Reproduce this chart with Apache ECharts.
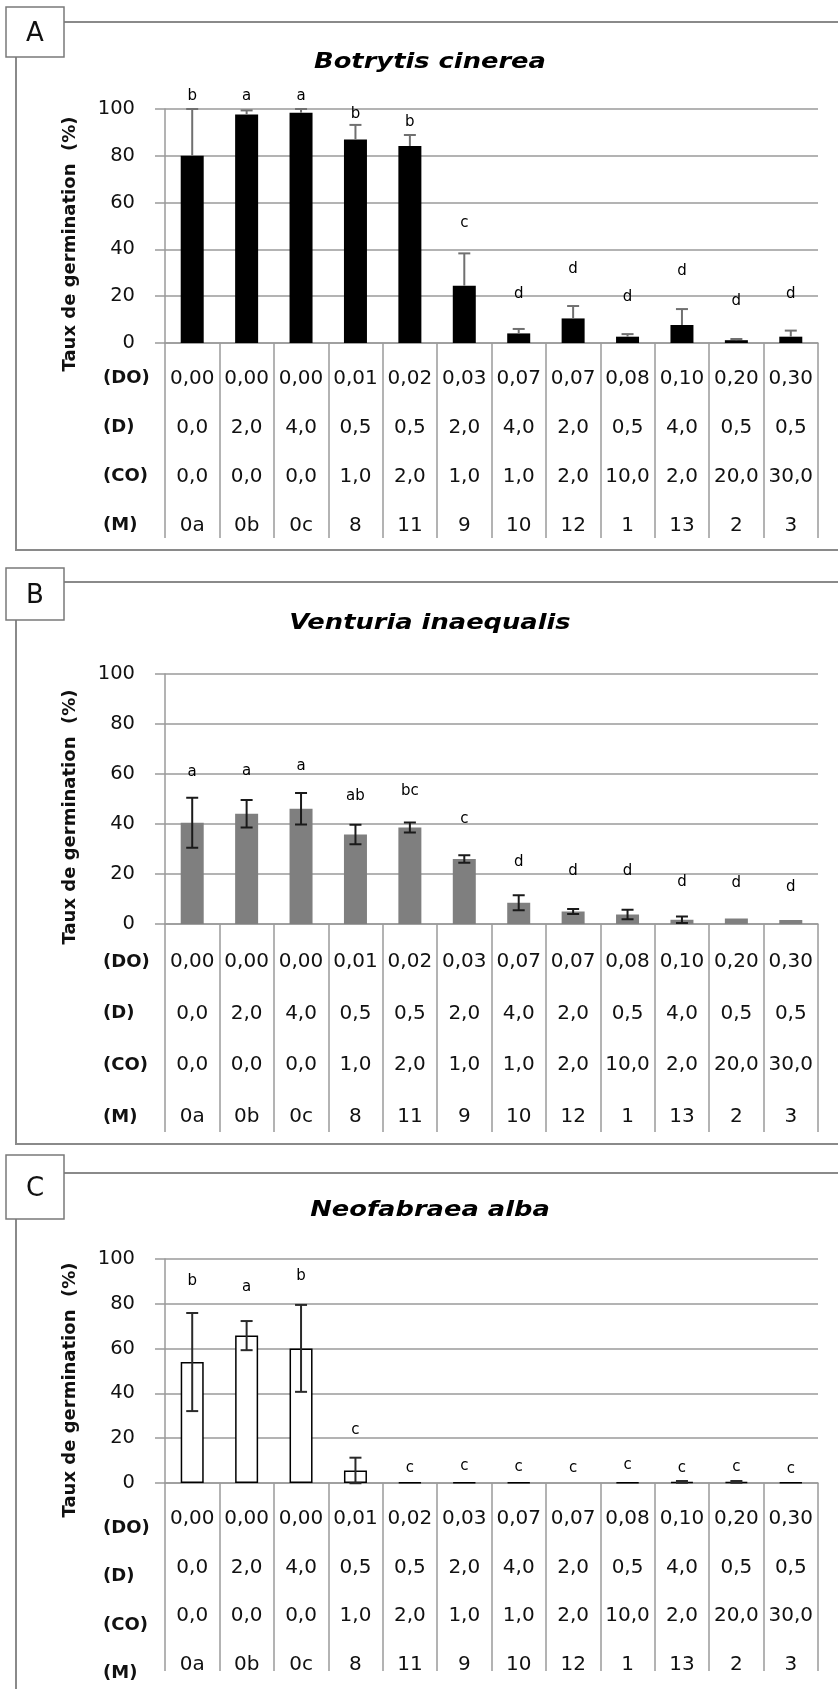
<!DOCTYPE html>
<html>
<head>
<meta charset="utf-8">
<script src="https://cdn.jsdelivr.net/npm/echarts@6/dist/echarts.min.js"></script>
<style>
html,body{margin:0;padding:0;background:#fff;}
#main{width:838px;height:1689px;}
</style>
</head>
<body>
<div id="main"></div>
<script>
// modalites (M) et lignes du tableau sous les axes
var modalites = ['0a','0b','0c','8','11','9','10','12','1','13','2','3'];
var rowDO = ['0,00','0,00','0,00','0,01','0,02','0,03','0,07','0,07','0,08','0,10','0,20','0,30'];
var rowD  = ['0,0','2,0','4,0','0,5','0,5','2,0','4,0','2,0','0,5','4,0','0,5','0,5'];
var rowCO = ['0,0','0,0','0,0','1,0','2,0','1,0','1,0','2,0','10,0','2,0','20,0','30,0'];
var rowNames = ['(DO)','(D)','(CO)','(M)'];
var yMax = 100, yStep = 20;

// A - Botrytis cinerea (erreur positive seulement)
var botrytis       = [80, 97.7, 98.4, 87, 84.2, 24.5, 4.1, 10.5, 2.7, 7.7, 1.2, 2.7];
var botrytisErr    = [20, 1.7, 1.6, 6.2, 4.7, 13.8, 1.9, 5.3, 1.1, 6.8, 0.5, 2.6];
var botrytisLet    = ['b','a','a','b','b','c','d','d','d','d','d','d'];
var botrytisLetY   = [105.7, 105.7, 105.7, 97.9, 94.3, 51.4, 20.8, 31.6, 19.8, 30.9, 18.1, 20.8];

// B - Venturia inaequalis
var venturia       = [40.5, 44.1, 46.1, 35.8, 38.6, 26.0, 8.5, 5.0, 3.8, 1.7, 2.2, 1.6];
var venturiaErr    = [10, 5.5, 6.3, 3.9, 2, 1.5, 3, 1, 1.9, 1.3, 0, 0];
var venturiaLet    = ['a','a','a','ab','bc','c','d','d','d','d','d','d'];
var venturiaLetY   = [60.9, 61, 63.1, 51.2, 53.3, 42, 24.6, 21, 21, 16.6, 16.4, 14.6];

// C - Neofabraea alba (modalite 12 : pas de barre)
var neofabraea     = [54, 65.8, 60.1, 5.6, 0.3, 0.3, 0.3, null, 0.3, 0.5, 0.5, 0.3];
var neofabraeaErr  = [21.9, 6.5, 19.4, 5.7, 0, 0, 0, 0, 0, 0.4, 0.4, 0];
var neofabraeaLet  = ['b','a','b','c','c','c','c','c','c','c','c','c'];
var neofabraeaLetY = [90.1, 87.6, 92.3, 23.6, 6.7, 7.4, 7.2, 6.5, 7.9, 6.5, 7.2, 6.2];

var FONT = '"DejaVu Sans", "Liberation Sans", sans-serif';
var GRIS = '#9a9a9a';

var panels = [
  {lettre:'A', titre:'Botrytis cinerea', vals:botrytis, err:botrytisErr, plusOnly:true,
   lets:botrytisLet, letY:botrytisLetY, top:109, h:234, lh:49, margin:11, tick:195,
   bar:{color:'#000'}, errColor:'#707070',
   box:[6,7,58,50], frameTop:22, frameBottom:550, titleY:62, nameY:244},
  {lettre:'B', titre:'Venturia inaequalis', vals:venturia, err:venturiaErr, plusOnly:false,
   lets:venturiaLet, letY:venturiaLetY, top:674, h:250, lh:51.7, margin:12, tick:208,
   bar:{color:'#7f7f7f'}, errColor:'#1a1a1a',
   box:[6,568,58,52], frameTop:582, frameBottom:1144, titleY:623, nameY:817},
  {lettre:'C', titre:'Neofabraea alba', vals:neofabraea, err:neofabraeaErr, plusOnly:false,
   lets:neofabraeaLet, letY:neofabraeaLetY, top:1259, h:233, lh:48.5, margin:12, tick:188,
   bar:{color:'#fff', borderColor:'#000', borderWidth:1.5}, errColor:'#2a2a2a',
   box:[6,1155,58,64], frameTop:1173, frameBottom:null, titleY:1210, nameY:1390}
];

var grid = [], xAxis = [], yAxis = [], series = [], graphic = [];

panels.forEach(function(p, k){
  grid.push({left:165, right:20, top:p.top, height:p.h});

  xAxis.push({
    type:'category', gridIndex:k, data:modalites,
    axisLine:{lineStyle:{color:GRIS, width:1.5}},
    axisTick:{show:true, length:p.tick, lineStyle:{color:GRIS, width:1.5}},
    axisLabel:{
      interval:0, margin:p.margin, lineHeight:p.lh, fontSize:20, fontFamily:FONT, color:'#111',
      formatter:function(v, i){ return [rowDO[i], rowD[i], rowCO[i], modalites[i]].join('\n'); }
    },
    splitLine:{show:false}
  });

  yAxis.push({
    type:'value', gridIndex:k, min:0, max:yMax, interval:yStep,
    axisLine:{show:true, lineStyle:{color:GRIS, width:1.5}},
    axisTick:{show:true, length:10, lineStyle:{color:GRIS, width:1.5}},
    axisLabel:{margin:30, fontSize:19.5, fontFamily:FONT, color:'#111'},
    splitLine:{lineStyle:{color:GRIS, width:1.5}}
  });

  series.push({
    type:'bar', xAxisIndex:k, yAxisIndex:k, data:p.vals, barWidth:23,
    itemStyle:p.bar, silent:true
  });

  // barres d'erreur
  var errData = p.vals.map(function(v, i){
    var b = v || 0;
    var lo = p.plusOnly ? b : b - p.err[i];
    return [i, lo, b + p.err[i], p.err[i]];
  });
  series.push({
    type:'custom', xAxisIndex:k, yAxisIndex:k, data:errData, z:5, silent:true,
    encode:{x:0, y:[1,2]},
    renderItem:(function(p){ return function(params, api){
      if (!api.value(3)) return {type:'group', children:[]};
      var lo = api.coord([api.value(0), api.value(1)]);
      var hi = api.coord([api.value(0), api.value(2)]);
      var st = {stroke:p.errColor, lineWidth:2};
      var ch = [
        {type:'line', shape:{x1:lo[0], y1:lo[1], x2:hi[0], y2:hi[1]}, style:st},
        {type:'line', shape:{x1:hi[0]-6, y1:hi[1], x2:hi[0]+6, y2:hi[1]}, style:st}
      ];
      if (!p.plusOnly) ch.push({type:'line', shape:{x1:lo[0]-6, y1:lo[1], x2:lo[0]+6, y2:lo[1]}, style:st});
      return {type:'group', children:ch};
    }; })(p)
  });

  // lettres de significativite
  series.push({
    type:'custom', xAxisIndex:k, yAxisIndex:k, z:6, silent:true,
    data:p.letY.map(function(y, i){ return [i, y]; }),
    encode:{x:0, y:1},
    renderItem:(function(p){ return function(params, api){
      var pt = api.coord([api.value(0), api.value(1)]);
      return {type:'text', x:pt[0], y:pt[1], style:{
        text:p.lets[params.dataIndex], font:'15px ' + FONT, fill:'#000',
        align:'center', verticalAlign:'middle', textAlign:'center', textVerticalAlign:'middle'
      }};
    }; })(p)
  });

  // cadre et encart de lettre
  var fb = p.frameBottom;
  graphic.push({type:'polyline', shape:{points:[[64,p.frameTop],[838,p.frameTop]]}, style:{stroke:'#8a8a8a', lineWidth:2, fill:null}});
  graphic.push({type:'polyline', shape:{points: fb ? [[16,p.box[1]+p.box[3]],[16,fb],[838,fb]] : [[16,p.box[1]+p.box[3]],[16,1689]]},
    style:{stroke:'#8a8a8a', lineWidth:2, fill:null}});
  graphic.push({type:'rect', shape:{x:p.box[0], y:p.box[1], width:p.box[2], height:p.box[3]},
    style:{stroke:'#7a7a7a', lineWidth:1.5, fill:'#fff'}});
  graphic.push({type:'text', x:p.box[0]+p.box[2]/2, y:p.box[1]+p.box[3]/2+2,
    style:{text:p.lettre, font:'26px ' + FONT, fill:'#111', align:'center', verticalAlign:'middle', textAlign:'center', textVerticalAlign:'middle'}});

  // titre (un peu etire en largeur comme l'original)
  graphic.push({type:'text', x:430, y:p.titleY, scaleX:1.17,
    style:{text:p.titre, font:'italic bold 22px ' + FONT, fill:'#000', align:'center', verticalAlign:'middle', textAlign:'center', textVerticalAlign:'middle'}});

  // titre de l'axe y
  graphic.push({type:'text', x:70, y:p.nameY, rotation:Math.PI/2,
    style:{text:'Taux de germination  (%)', font:'bold 18px ' + FONT, fill:'#111', align:'center', verticalAlign:'middle', textAlign:'center', textVerticalAlign:'middle'}});

  // libelles des lignes du tableau
  rowNames.forEach(function(r, j){
    graphic.push({type:'text', x:103, y:p.top + p.h + p.margin + p.lh*(j+0.5),
      style:{text:r, font:'bold 18px ' + FONT, fill:'#111', align:'left', verticalAlign:'middle', textAlign:'left', textVerticalAlign:'middle'}});
  });
});

var myChart = echarts.init(document.getElementById('main'));
myChart.setOption({
  animation:false,
  grid:grid, xAxis:xAxis, yAxis:yAxis, series:series,
  graphic:{elements:graphic}
});
</script>
</body>
</html>
